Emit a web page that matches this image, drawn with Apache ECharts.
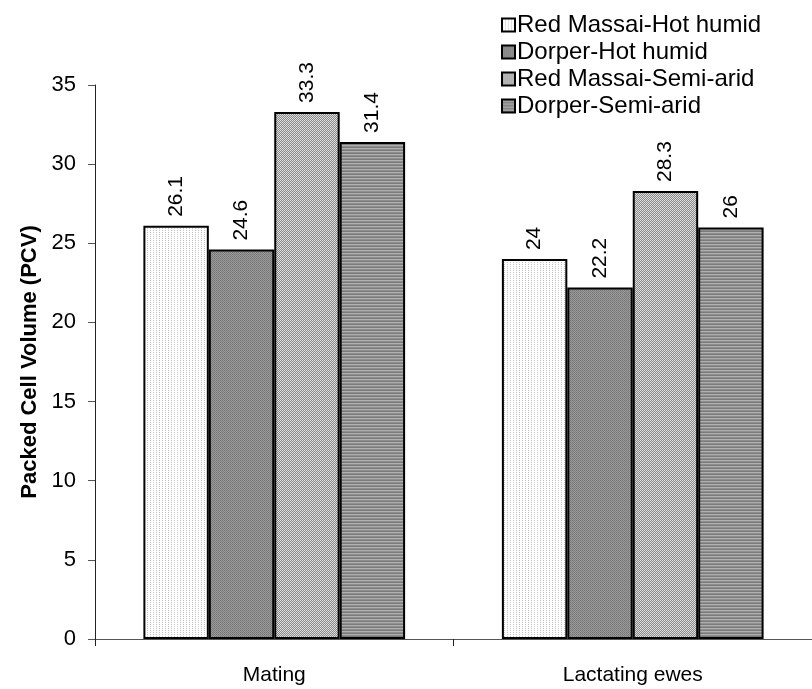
<!DOCTYPE html>
<html>
<head>
<meta charset="utf-8">
<script src="https://cdn.jsdelivr.net/npm/echarts@6/dist/echarts.min.js"></script>
<style>
  html, body { margin: 0; padding: 0; background: #fff; }
  #chart { width: 812px; height: 689px; }
</style>
</head>
<body>
<div id="chart"></div>
<script>
// Chart data
const categories = ['Mating', 'Lactating ewes'];
const seriesNames = ['Red Massai-Hot humid', 'Dorper-Hot humid', 'Red Massai-Semi-arid', 'Dorper-Semi-arid'];
const redMassaiHotHumid = [26.1, 24];
const dorperHotHumid = [24.6, 22.2];
const redMassaiSemiArid = [33.3, 28.3];
const dorperSemiArid = [31.4, 26];
const yTicks = [0, 5, 10, 15, 20, 25, 30, 35];

// Small repeating fill textures for the bars
function makePattern(w, h, draw) {
  const c = document.createElement('canvas');
  c.width = w; c.height = h;
  const ctx = c.getContext('2d');
  draw(ctx);
  return { image: c, repeat: 'repeat' };
}
function px(ctx, x, y, col) { ctx.fillStyle = col; ctx.fillRect(x, y, 1, 1); }

const fillLightDots = makePattern(3, 2, ctx => {
  ctx.fillStyle = '#ffffff'; ctx.fillRect(0, 0, 3, 2);
  px(ctx, 0, 0, '#c4c4c4');
});
const fillDarkWeave = makePattern(2, 2, ctx => {
  ctx.fillStyle = '#9a9a9a'; ctx.fillRect(0, 0, 2, 2);
  px(ctx, 0, 0, '#747474'); px(ctx, 1, 1, '#808080');
});
const fillChecker = makePattern(2, 2, ctx => {
  ctx.fillStyle = '#8a8a8a'; ctx.fillRect(0, 0, 2, 2);
  px(ctx, 0, 0, '#e0e0e0'); px(ctx, 1, 1, '#d8d8d8');
});
const fillStripes = makePattern(1, 3, ctx => {
  px(ctx, 0, 0, '#7a7a7a'); px(ctx, 0, 1, '#b0b0b0'); px(ctx, 0, 2, '#8e8e8e');
});
const fills = [fillLightDots, fillDarkWeave, fillChecker, fillStripes];
const values = [redMassaiHotHumid, dorperHotHumid, redMassaiSemiArid, dorperSemiArid];

const FONT = "'Liberation Sans', Arial, sans-serif";

const chart = echarts.init(document.getElementById('chart'), null, { renderer: 'canvas' });

chart.setOption({
  backgroundColor: '#ffffff',
  animation: false,
  textStyle: { fontFamily: FONT, color: '#000' },
  legend: {
    orient: 'vertical',
    left: 496,
    top: 8,
    itemWidth: 13,
    itemHeight: 13,
    itemGap: 3,
    icon: 'rect',
    textStyle: { fontFamily: FONT, fontSize: 24, color: '#000', padding: [0, 0, 0, -3] },
    data: seriesNames
  },
  grid: { left: 95, top: 85, width: 728, height: 554, containLabel: false },
  xAxis: {
    type: 'category',
    data: categories,
    axisLine: { lineStyle: { color: '#555', width: 1 } },
    axisTick: { show: true, length: 7, lineStyle: { color: '#222' } },
    axisLabel: { fontFamily: FONT, fontSize: 21, color: '#000', margin: 26 }
  },
  yAxis: {
    type: 'value',
    min: yTicks[0],
    max: yTicks[yTicks.length - 1],
    interval: 5,
    name: 'Packed Cell Volume (PCV)',
    nameLocation: 'middle',
    nameGap: 54,
    nameTextStyle: { fontFamily: FONT, fontSize: 22, fontWeight: 'bold', color: '#000' },
    splitLine: { show: false },
    axisLine: { show: true, lineStyle: { color: '#222', width: 1 } },
    axisTick: { show: true, length: 7, lineStyle: { color: '#555' } },
    axisLabel: { fontFamily: FONT, fontSize: 22, color: '#000', margin: 19 }
  },
  series: seriesNames.map((name, i) => ({
    name: name,
    type: 'bar',
    data: values[i],
    barGap: '0%',
    barCategoryGap: '27%',
    itemStyle: { color: fills[i], borderColor: '#000', borderWidth: 2 },
    label: {
      show: true,
      position: 'top',
      rotate: 90,
      align: 'left',
      verticalAlign: 'middle',
      distance: 9,
      fontFamily: FONT,
      fontSize: 21,
      color: '#000',
      formatter: p => String(p.value)
    }
  }))
});
</script>
</body>
</html>
